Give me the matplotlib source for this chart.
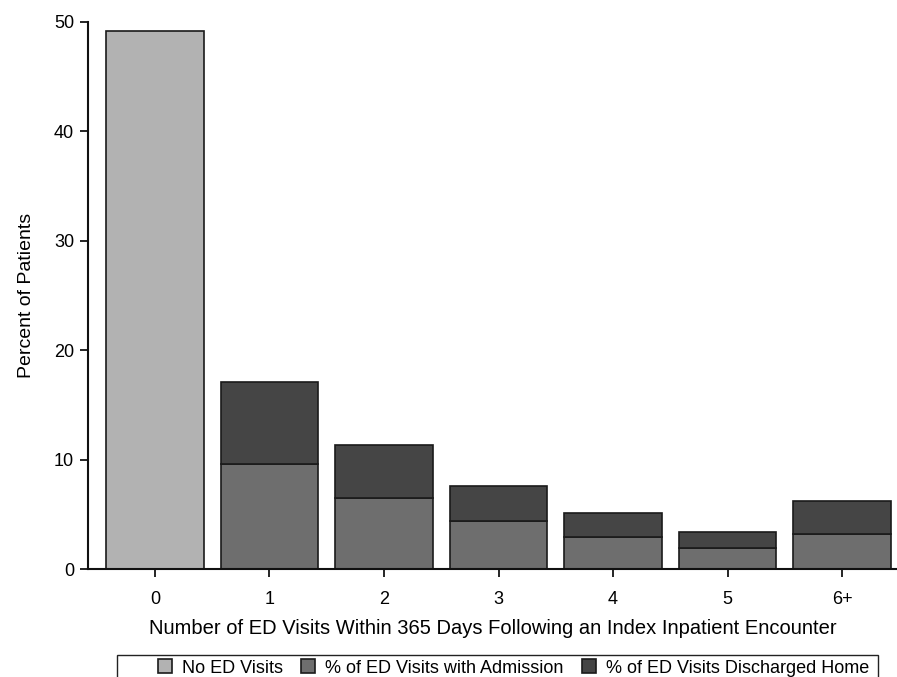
import matplotlib
matplotlib.use("Agg")
import matplotlib.pyplot as plt
from matplotlib.patches import Rectangle
import numpy as np

plt.rcParams["font.family"] = ["Liberation Sans", "DejaVu Sans"]

# values (percent of patients)
categories = ["0", "1", "2", "3", "4", "5", "6+"]
no_visits = [49.2, 0, 0, 0, 0, 0, 0]
with_admission = [0, 9.6, 6.5, 4.4, 2.95, 1.9, 3.2]
discharged_home = [0, 7.5, 4.8, 3.2, 2.2, 1.5, 3.0]

light = "#b2b2b2"
mid = "#6e6e6e"
dark = "#454545"
edge = "#1a1a1a"

W, H = 897, 677
fig = plt.figure(figsize=(W / 100, H / 100), dpi=100)
ax = fig.add_axes([88 / W, 1 - 569 / H, 1 - 88 / W, (569 - 22) / H])

x = np.arange(len(categories))
w = 0.85
kw = dict(width=w, edgecolor=edge, linewidth=1.2)
b0 = ax.bar(x[:1], no_visits[:1], color=light, label="No ED Visits", **kw)
b1 = ax.bar(x[1:], with_admission[1:], color=mid, label="% of ED Visits with Admission", **kw)
b2 = ax.bar(x[1:], discharged_home[1:], bottom=with_admission[1:], color=dark,
            label="% of ED Visits Discharged Home", **kw)

ax.set_xlim(-0.585, 6.48)
ax.set_ylim(0, 50)
ax.set_xticks(x)
ax.set_xticklabels(categories)
ax.set_yticks(range(0, 51, 10))
ax.tick_params(axis="both", labelsize=13, length=6, width=1.2, direction="out")
ax.tick_params(axis="x", pad=10)
ax.tick_params(axis="y", pad=4)
for side in ("top", "right"):
    ax.spines[side].set_visible(False)
for side in ("left", "bottom"):
    ax.spines[side].set_linewidth(1.5)
    ax.spines[side].set_color("#111111")

ax.set_ylabel("Percent of Patients", fontsize=14, labelpad=14)
ax.set_xlabel("Number of ED Visits Within 365 Days Following an Index Inpatient Encounter",
              fontsize=14.5, labelpad=8)

# legend frame runs off the bottom of the image, drawn separately
fig.patches.append(Rectangle((117 / W, -0.05), (878 - 117) / W, 0.05 + 1 - 655 / H,
                             transform=fig.transFigure, fill=False,
                             edgecolor="#222222", linewidth=1.0))
fig.legend(handles=[b0, b1, b2], loc="center left", ncol=3,
           bbox_to_anchor=(158 / W, 1 - 668 / H), fontsize=13,
           frameon=False, handlelength=0.78, handleheight=0.78, handletextpad=0.55,
           columnspacing=1.0, borderpad=0, borderaxespad=0)

fig.savefig("out.png", dpi=100, facecolor="white")
